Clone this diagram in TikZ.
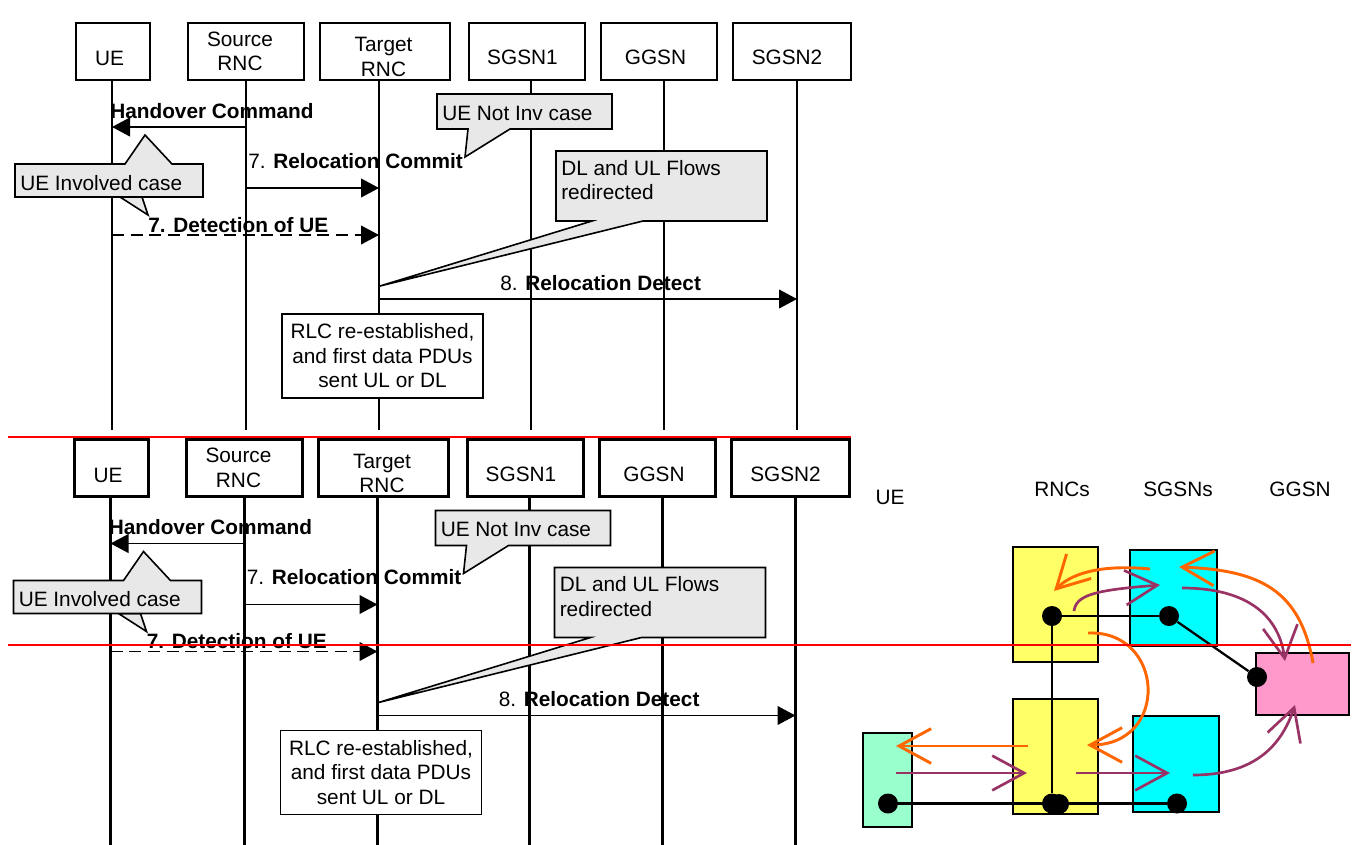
\documentclass[tikz,border=0pt]{standalone}
\usepackage{fontspec}
\setmainfont{Liberation Sans}
\usetikzlibrary{arrows.meta,calc,positioning}
\definecolor{calloutgray}{HTML}{E8E8E8}
\definecolor{rncyellow}{HTML}{FFFF66}
\definecolor{sgsncyan}{HTML}{00FFFF}
\definecolor{ggsnpink}{HTML}{FF99CC}
\definecolor{uegreen}{HTML}{99FFCC}
\definecolor{dlorange}{HTML}{FF6600}
\definecolor{ulpurple}{HTML}{993366}
\tikzset{entity/.style={draw,line width=1.9pt,fill=white,minimum height=42.75pt,inner sep=0pt},
  txt/.style={inner sep=0pt,font=\fontsize{15.6}{18.4}\selectfont},
  life/.style={line width=1.7pt},
  msg/.style={line width=1.4pt,-{Triangle[length=13.5pt,width=14pt]}},
  callout/.style={draw,line width=1.2pt,fill=calloutgray,line join=miter},
  elem/.style={draw,line width=1.8pt},
  dot/.style={circle,fill=black,inner sep=0pt,minimum size=15pt},
  link/.style={line width=1.7pt},
  dl/.style={dlorange,line width=2.2pt,-{Straight Barb[length=24pt,width=26pt]}},
  ul/.style={ulpurple,line width=2pt,-{Straight Barb[length=24pt,width=26pt]}}}
\begin{document}
\begin{tikzpicture}[x=0.75pt,y=-0.75pt]
\useasboundingbox (0,0) rectangle (1356,844);
\foreach \sfx/\dx/\dy in {a/0/0,b/-1.5/416.5}{
\begin{scope}[shift={(\dx,\dy)}]
\coordinate (ueL\sfx) at (112,80);
\coordinate (srncL\sfx) at (246,80);
\coordinate (trncL\sfx) at (379,80);
\coordinate (sgsnAL\sfx) at (531,80);
\coordinate (ggsnL\sfx) at (664,80);
\coordinate (sgsnBL\sfx) at (797,80);
\foreach \l in {ueL,srncL,trncL,sgsnAL,ggsnL,sgsnBL} \draw[life] (\l\sfx) -- ++(0,350);
\node[entity,minimum width=55.5pt] (ue\sfx) at (113,51.5) {};
\node[entity,minimum width=87pt] (srnc\sfx) at (246,51.5) {};
\node[entity,minimum width=97.5pt] (trnc\sfx) at (385,51.5) {};
\node[entity,minimum width=87pt] (sgsnA\sfx) at (527,51.5) {};
\node[entity,minimum width=87pt] (ggsn\sfx) at (659,51.5) {};
\node[entity,minimum width=88.5pt] (sgsnB\sfx) at (792,51.5) {};
\node[txt] (ueT\sfx) at (109.5,58.5) {UE};
\node[txt,align=center] (srncT\sfx) at (240,51.5) {Source\\RNC};
\node[txt,align=center] (trncT\sfx) at (383.5,57) {Target\\RNC};
\node[txt] (sgsnAT\sfx) at (522.5,57.5) {SGSN1};
\node[txt] (ggsnT\sfx) at (655.5,57.5) {GGSN};
\node[txt] (sgsnBT\sfx) at (787,57.5) {SGSN2};
\draw[callout] (148,215) -- (142,197) -- (120,197) -- cycle;
\draw[callout] (15,164) -- (125,164) -- (145,135) -- (172,164) -- (203,164) -- (203,197) -- (15,197) -- cycle;
\node[txt,anchor=base west] (invT\sfx) at (20,190) {UE Involved case};
\draw[callout] (437,94) -- (612,94) -- (612,129) -- (510,129) -- (465,157) -- (468,129) -- (437,129) -- cycle;
\node[txt,anchor=base west] (notT\sfx) at (442,120) {UE Not Inv case};
\draw[callout] (556,151) -- (767,151) -- (767,221) -- (643,221) -- (380,286) -- (592,221) -- (556,221) -- cycle;
\node[txt,anchor=north west,align=left] (flowT\sfx) at (561,160) {DL and UL Flows\\redirected};
\node[txt,draw,line width=1.4pt,fill=white,minimum width=150.75pt,minimum height=63pt,align=center] (rlc\sfx) at (382.5,356) {RLC re-established,\\and first data PDUs\\sent UL or DL};
\draw[msg] (srncL\sfx |- 0,127) -- (ueL\sfx |- 0,127);
\node[txt,anchor=base west] (hoT\sfx) at (110,118) {\bfseries Handover Command};
\draw[msg] (srncL\sfx |- 0,188) -- (trncL\sfx |- 0,188);
\node[txt,anchor=base west] (rcT\sfx) at (248,168) {7. \textbf{Relocation Commit}};
\draw[msg,dash pattern=on 9pt off 5pt] (ueL\sfx |- 0,235) -- (trncL\sfx |- 0,235);
\node[txt,anchor=base west] (detT\sfx) at (148,232) {\bfseries 7. Detection of UE};
\draw[msg] (trncL\sfx |- 0,299) -- (sgsnBL\sfx |- 0,299);
\node[txt,anchor=base west] (rdT\sfx) at (500,290) {8. \textbf{Relocation Detect}};
\end{scope}}
\node[txt] (lUE) at (890,497) {UE};
\node[txt] (lRNC) at (1062,489) {RNCs};
\node[txt] (lSGSN) at (1178,489) {SGSNs};
\node[txt] (lGGSN) at (1300,489) {GGSN};
\node[elem,fill=rncyellow,minimum width=63.75pt,minimum height=86.25pt] (nRNC1) at (1055.5,604.5) {};
\node[elem,fill=sgsncyan,minimum width=65.25pt,minimum height=72pt] (nSGSN1) at (1173.5,598) {};
\node[elem,fill=ggsnpink,minimum width=69.75pt,minimum height=46.5pt] (nGGSN) at (1302.5,684) {};
\node[elem,fill=rncyellow,minimum width=63.75pt,minimum height=86.25pt] (nRNC2) at (1055.5,756.5) {};
\node[elem,fill=sgsncyan,minimum width=64.5pt,minimum height=72pt] (nSGSN2) at (1176,764) {};
\node[elem,fill=uegreen,minimum width=36.75pt,minimum height=70.5pt] (nUE) at (887.5,780) {};
\node[dot] (d1) at (1052,616) {};
\node[dot] (d2) at (1169,616) {};
\node[dot] (d3) at (1257,677) {};
\node[dot] (d4) at (888,803.5) {};
\node[dot] (d5) at (1052,803.5) {};
\node[dot] (d6) at (1059,804) {};
\node[dot] (d7) at (1177,803.5) {};
\draw[link] (d1) -- (d2);
\draw[link] (d2) -- (d3);
\draw[link] (d1) -- (d5);
\draw[link] (d4) -- (d7);
\draw[dl] ($(nSGSN1)+(-23.5,-29)$) .. controls (1110,565) and (1075,570) .. ($(nRNC1)+(-1.5,-13.5)$);
\draw[dl] ($(nGGSN)+(10.5,-21)$) .. controls (1300,590) and (1260,570) .. ($(nSGSN1)+(5.5,-31)$);
\draw[dl] ($(nRNC1)+(32.5,28.5)$) .. controls (1165,630) and (1170,745) .. ($(nRNC2)+(31.5,-11.5)$);
\draw[dl] ($(nRNC2)+(-27.5,-10.5)$) -- ($(nUE)+(8.5,-34)$);
\draw[ul] ($(nRNC1)+(18.5,6.5)$) .. controls (1076,595) and (1095,590) .. ($(nSGSN1)+(-13.5,-13)$);
\draw[ul] ($(nSGSN1)+(8.5,-10)$) .. controls (1240,588) and (1278,610) .. ($(nGGSN)+(-17.5,-23)$);
\draw[ul] ($(nUE)+(8.5,-7)$) -- ($(nRNC2)+(-28.5,16.5)$);
\draw[ul] ($(nRNC2)+(20.5,16.5)$) -- ($(nSGSN2)+(-6,9)$);
\draw[ul] ($(nSGSN2)+(17,11)$) .. controls (1250,775) and (1280,750) .. ($(nGGSN)+(-7.5,21)$);
\draw[red,line width=2pt] (8,437) -- (851,437);
\draw[red,line width=1.5pt] (8,645) -- (1351,645);
\end{tikzpicture}
\end{document}
